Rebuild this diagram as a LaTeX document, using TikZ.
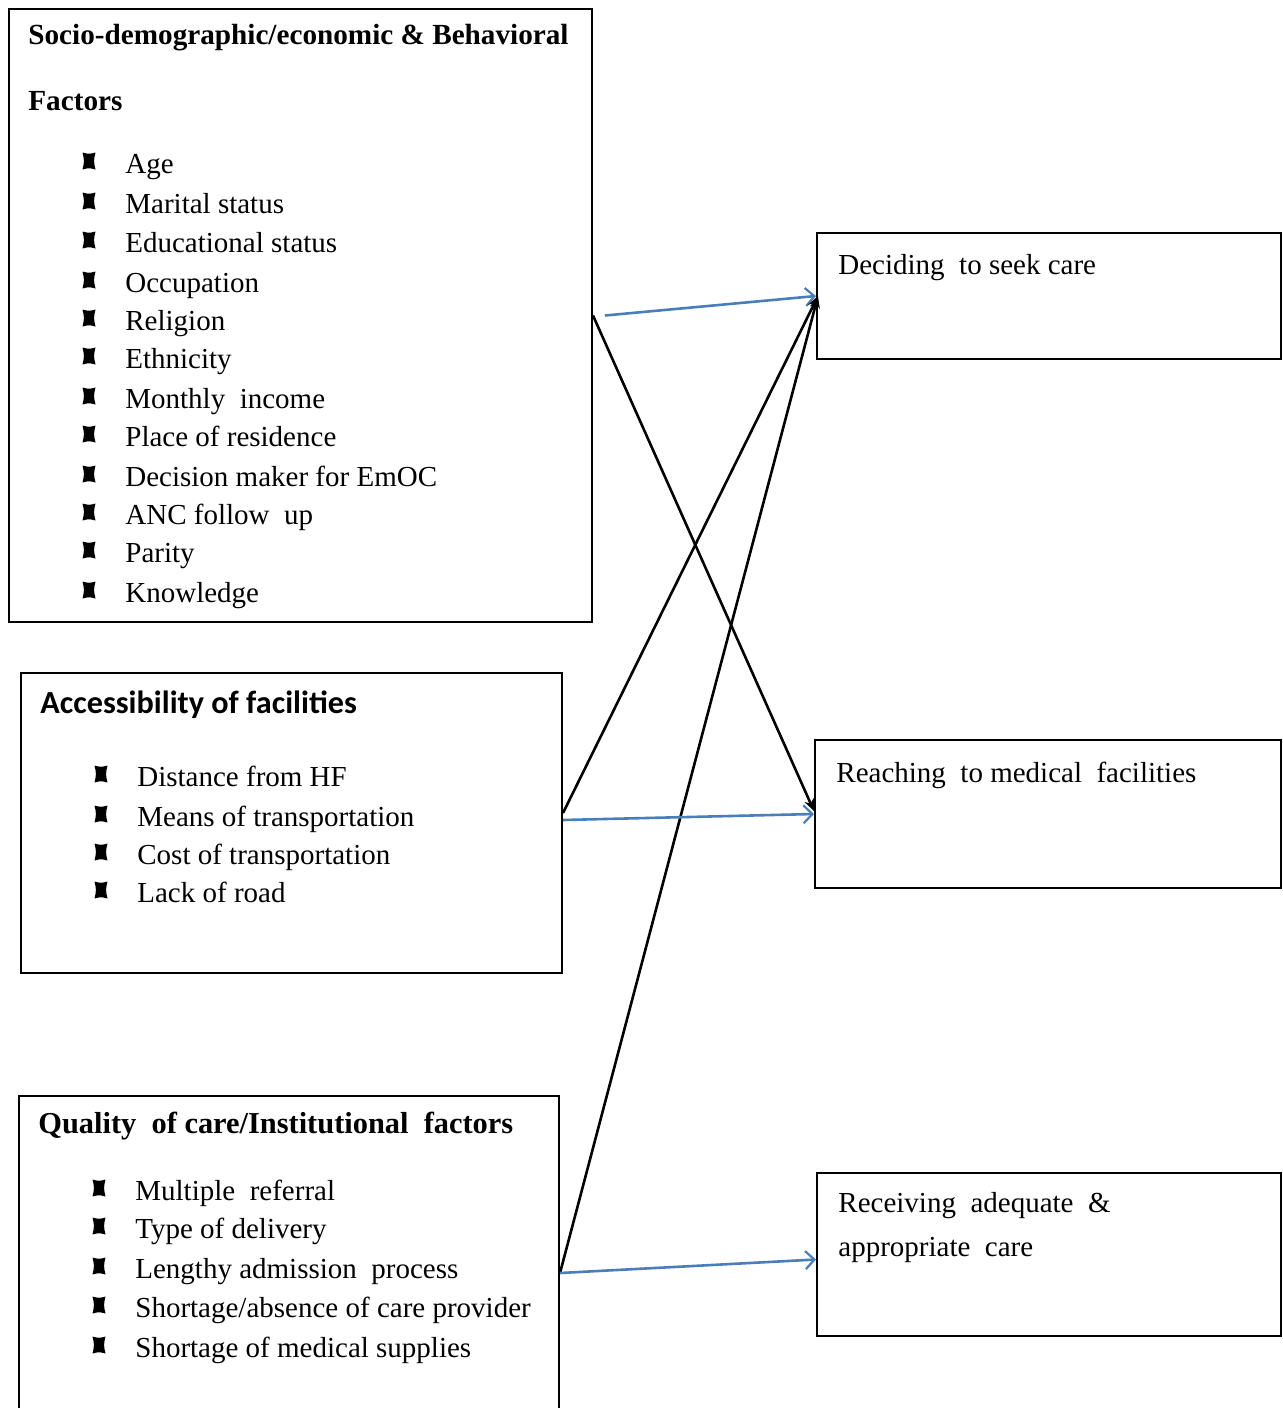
\documentclass[tikz,border=0pt]{standalone}
\usepackage{fontspec}
\setmainfont{Liberation Serif}
\newfontfamily\calib{Carlito}
\usetikzlibrary{arrows.meta}
\definecolor{arrowblue}{HTML}{4A7EBB}
\newcommand{\itemfont}{\fontsize{14.5}{17}\selectfont}
\newcommand{\headfont}{\fontsize{14.6}{17}\selectfont\bfseries}
\tikzset{
  box/.style={draw, line width=1pt, anchor=north west, inner sep=0pt},
  txt/.style={anchor=base west, inner sep=0pt, font=\itemfont},
  head/.style={anchor=base west, inner sep=0pt, font=\headfont},
  blue arrow/.style={draw=arrowblue, line width=1.3pt, -{Straight Barb[length=4.5pt,width=9pt,line width=1.1pt]}},
  black arrow/.style={draw=black, line width=1.3pt, -{Stealth[length=6pt,width=5pt]}},
  qb/.pic={\fill (-6.5,-8.5) .. controls (0,-6.8) .. (6.5,-8.5) .. controls (4.6,0) .. (6.5,8.5) .. controls (0,6.8) .. (-6.5,8.5) .. controls (-4.6,0) .. (-6.5,-8.5) -- cycle;}
}
\begin{document}
\begin{tikzpicture}[x=0.5pt,y=-0.5pt]
\useasboundingbox (0,0) rectangle (1283,1408);
\clip (0,0) rectangle (1283,1408);
% left boxes
\node[box, minimum width=583*0.5pt, minimum height=613*0.5pt] (soc) at (8,8) {};
\node[box, minimum width=541*0.5pt, minimum height=300*0.5pt] (acc) at (20,672) {};
\node[box, minimum width=540*0.5pt, minimum height=354*0.5pt] (qual) at (18,1095) {};
% right boxes
\node[box, minimum width=464*0.5pt, minimum height=126*0.5pt] (dec) at (816,232) {};
\node[box, minimum width=466*0.5pt, minimum height=148*0.5pt] (rea) at (814,739) {};
\node[box, minimum width=464*0.5pt, minimum height=163*0.5pt] (rec) at (816,1172) {};

% box 1 text
\node[head] (h1a) at (28,44) {Socio-demographic/economic \& Behavioral};
\node[head] (h1b) at (28,110) {Factors};
\foreach \y/\t [count=\i] in {173/Age, 213/Marital status, 252/Educational status, 292/Occupation, 330/Religion, 368/Ethnicity, 408/Monthly\ \ income, 446/Place of residence, 486/Decision maker for EmOC, 524/ANC follow\ \ up, 562/Parity, 602/Knowledge}{
  \pic at (89,\y-12) {qb};
  \node[txt] (s\i) at (125,\y) {\t};
}
% box 2 text
\node[anchor=base west, inner sep=0pt, font=\calib\fontsize{16.1}{19}\selectfont\bfseries] (h2) at (40,713) {Accessibility of facilities};
\foreach \y/\t [count=\i] in {786/Distance from HF, 826/Means of transportation, 864/Cost of transportation, 902/Lack of road}{
  \pic at (101,\y-12) {qb};
  \node[txt] (a\i) at (137,\y) {\t};
}
% box 3 text
\node[head, font=\fontsize{15.2}{18}\selectfont\bfseries] (h3) at (38,1133) {Quality\ \ of care/Institutional\ \ factors};
\foreach \y/\t [count=\i] in {1200/{Multiple\ \ referral}, 1238/{Type of delivery}, 1278/{Lengthy admission\ \ process}, 1317/{Shortage/absence of care provider}, 1357/{Shortage of medical supplies}}{
  \pic at (99,\y-12) {qb};
  \node[txt] (q\i) at (135,\y) {\t};
}
% right texts
\node[txt] (t1) at (838,274) {Deciding\ \ to seek care};
\node[txt] (t2) at (836,782) {Reaching\ \ to medical\ \ facilities};
\node[txt] (t3) at (838,1212) {Receiving\ \ adequate\ \ \&};
\node[txt] (t4) at (838,1256) {appropriate\ \ care};

% connectors
\draw[blue arrow] ([xshift=12*0.5pt]soc.east) -- (dec.west);
\draw[black arrow] (soc.east) -- ([yshift=1.5pt]rea.west);
\draw[black arrow] ([yshift=5pt]acc.east) -- ([xshift=1pt]dec.west);
\draw[black arrow] (qual.east) -- ([xshift=1pt]dec.west);
\draw[blue arrow] ([yshift=1.5pt]acc.east) -- (rea.west);
\draw[blue arrow] (qual.east) -- ([yshift=-2.5pt]rec.west);
\end{tikzpicture}
\end{document}
